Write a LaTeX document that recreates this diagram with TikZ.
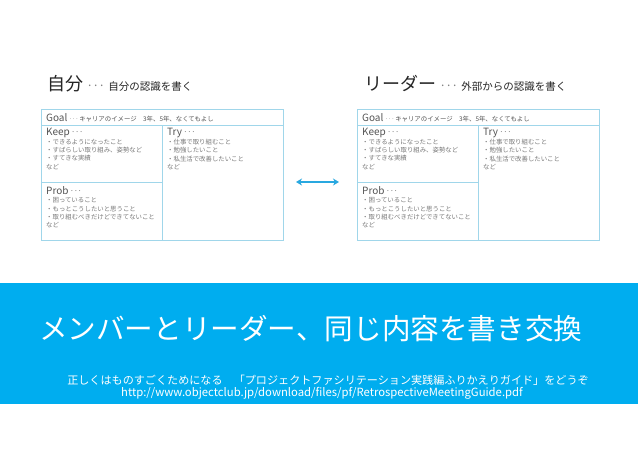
\documentclass[tikz,border=0pt]{standalone}
\usepackage{fontspec}
\setmainfont{Noto Sans CJK JP}
\usetikzlibrary{arrows.meta}
\definecolor{bandblue}{RGB}{0,173,239}
\definecolor{arrowblue}{RGB}{41,168,224}
\definecolor{cardline}{RGB}{160,214,234}
\definecolor{headgray}{RGB}{85,85,85}
\definecolor{itemgray}{RGB}{120,120,120}
\definecolor{dotgray}{RGB}{130,130,130}
\newcommand\mydots{\textcolor{dotgray}{\raisebox{0.32em}{.\kern0.22em.\kern0.22em.}}}
\tikzset{
  cardbox/.style={draw=cardline, line width=0.9pt},
  cardhead/.style={anchor=west, inner sep=0pt, text=headgray, font=\fontsize{10}{11}\selectfont},
  itemtext/.style={anchor=north west, inner sep=0pt, align=left, text=itemgray, font=\fontsize{6.4}{8.3}\selectfont},
  bigtitle/.style={anchor=base west, inner sep=0pt, text=black!85},
}
\newcommand\mycard[2]{%
  \begin{scope}[xshift=#2pt]
  \coordinate (#1tl) at (41,109);
  \coordinate (#1br) at (283,240);
  \draw[cardbox] (#1tl) rectangle (#1br);
  \draw[cardbox] (41,125.5) -- (283,125.5);
  \draw[cardbox] (162,125.5) -- (162,240);
  \draw[cardbox] (41,182) -- (162,182);
  \node[cardhead] (#1goal) at (46,118) {Goal {\fontsize{6.4}{7}\selectfont \mydots\ キャリアのイメージ　3年、5年、なくてもよし}};
  \node[cardhead] (#1keep) at (46,133) {Keep {\fontsize{8}{8}\selectfont \mydots}};
  \node[itemtext] (#1keepi) at (46,139) {・できるようになったこと\\・すばらしい取り組み、姿勢など\\・すてきな実績\\など};
  \node[cardhead] (#1try) at (167,133) {Try {\fontsize{8}{8}\selectfont \mydots}};
  \node[itemtext] (#1tryi) at (167,139) {・仕事で取り組むこと\\・勉強したいこと\\・私生活で改善したいこと\\など};
  \node[cardhead] (#1prob) at (46,190.5) {Prob {\fontsize{8}{8}\selectfont \mydots}};
  \node[itemtext] (#1probi) at (46,197.5) {・困っていること\\・もっとこうしたいと思うこと\\・取り組むべきだけどできてないこと\\など};
  \end{scope}}
\begin{document}
\begin{tikzpicture}[x=1pt,y=-1pt]
\useasboundingbox (0,0) rectangle (638,451);
\fill[white] (0,0) rectangle (638,451);
% headings
\node[bigtitle] (selfh) at (47,90) {{\fontsize{18}{20}\selectfont 自分}\hspace{0.5em}{\fontsize{12}{14}\selectfont \mydots}\hspace{0.5em}{\fontsize{10.5}{12}\selectfont 自分の認識を書く}};
\node[bigtitle] (leadh) at (364,90) {{\fontsize{18}{20}\selectfont リーダー}\hspace{0.5em}{\fontsize{12}{14}\selectfont \mydots}\hspace{0.5em}{\fontsize{10.5}{12}\selectfont 外部からの認識を書く}};
% cards
\mycard{L}{0}
\mycard{R}{316}
% arrow
\coordinate (al) at (296,182);
\coordinate (ar) at (339,182);
\draw[arrowblue, line width=2pt, {Stealth[length=6pt,width=7pt]}-{Stealth[length=6pt,width=7pt]}] (al) -- (ar);
% band
\fill[bandblue] (0,283) rectangle (638,404);
\node[anchor=west, inner sep=0pt, text=white, font=\fontsize{28.6}{30}\selectfont] (title) at (39,329) {メンバーとリーダー、同じ内容を書き交換};
\node[anchor=center, inner sep=0pt, text=white, font=\fontsize{11.1}{12}\selectfont] (sub1) at (328,380) {正しくはものすごくためになる　「プロジェクトファシリテーション実践編ふりかえりガイド」をどうぞ};
\node[anchor=center, inner sep=0pt, text=white, font=\fontsize{11.3}{12}\selectfont] (sub2) at (322,393) {http://www.objectclub.jp/download/files/pf/RetrospectiveMeetingGuide.pdf};
\end{tikzpicture}
\end{document}
